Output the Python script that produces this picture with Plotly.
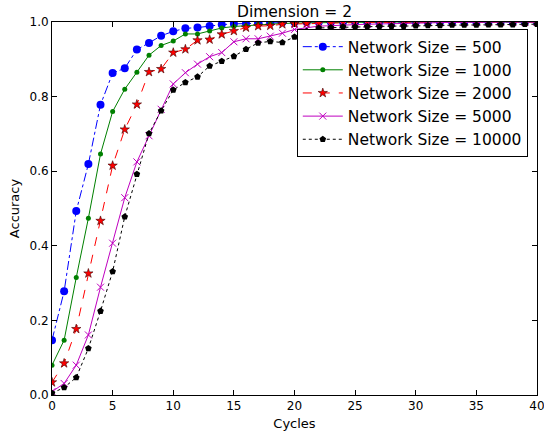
import plotly.graph_objects as go

cycles = list(range(41))

acc_500 = [0.147, 0.278, 0.493, 0.619, 0.778, 0.863, 0.876, 0.926, 0.944, 0.963,
           0.975, 0.983, 0.985, 0.989, 0.993, 0.995, 0.996, 0.997, 0.998, 0.999,
           0.999, 1.0, 1.0, 1.0, 1.0, 1.0, 1.0, 1.0, 1.0, 1.0,
           1.0, 1.0, 1.0, 1.0, 1.0, 1.0, 1.0, 1.0, 1.0, 1.0, 1.0]
acc_1000 = [0.080, 0.147, 0.315, 0.474, 0.646, 0.760, 0.820, 0.865, 0.911, 0.937,
            0.949, 0.968, 0.968, 0.976, 0.984, 0.988, 0.990, 0.993, 0.995, 0.996,
            0.997, 0.998, 0.998, 0.999, 0.999, 0.999, 1.0, 1.0, 1.0, 1.0,
            1.0, 1.0, 1.0, 1.0, 1.0, 1.0, 1.0, 1.0, 1.0, 1.0, 1.0]
acc_2000 = [0.034, 0.085, 0.177, 0.326, 0.467, 0.615, 0.712, 0.779, 0.866, 0.874,
            0.918, 0.927, 0.951, 0.953, 0.967, 0.976, 0.985, 0.989, 0.990, 0.994,
            0.995, 0.996, 0.997, 0.997, 0.998, 0.998, 0.999, 0.999, 0.999, 1.0,
            1.0, 1.0, 1.0, 1.0, 1.0, 1.0, 1.0, 1.0, 1.0, 1.0, 1.0]
acc_5000 = [0.009, 0.031, 0.080, 0.161, 0.289, 0.407, 0.529, 0.625, 0.695, 0.766,
            0.834, 0.864, 0.887, 0.907, 0.918, 0.947, 0.955, 0.955, 0.962, 0.970,
            0.980, 0.985, 0.989, 0.990, 0.992, 0.993, 0.994, 0.995, 0.996, 0.997,
            0.998, 0.998, 0.999, 0.999, 0.999, 1.0, 1.0, 1.0, 1.0, 1.0, 1.0]
acc_10000 = [0.005, 0.020, 0.047, 0.125, 0.225, 0.331, 0.478, 0.592, 0.701, 0.762,
             0.818, 0.838, 0.853, 0.882, 0.895, 0.908, 0.927, 0.944, 0.948, 0.945,
             0.960, 0.975, 0.984, 0.985, 0.987, 0.987, 0.988, 0.988, 0.989, 0.989,
             0.990, 0.991, 0.991, 0.992, 0.992, 0.992, 0.993, 0.993, 0.993, 0.994, 0.994]

series = [
    ("Network Size = 500", acc_500, "#0000ff", "dashdot", "circle", 8, dict(color="#0000ff", width=0)),
    ("Network Size = 1000", acc_1000, "#008000", "solid", "circle", 5, dict(color="#008000", width=0)),
    ("Network Size = 2000", acc_2000, "#ff0000", "dash", "star", 7, dict(color="#400000", width=0.6)),
    ("Network Size = 5000", acc_5000, "#bf00bf", "solid", "x-thin-open", 7, dict(color="#bf00bf", width=1)),
    ("Network Size = 10000", acc_10000, "#000000", "dot", "pentagon", 7, dict(color="#000000", width=0)),
]

fig = go.Figure()
for name, ys, color, dash, sym, size, mline in series:
    fig.add_trace(go.Scatter(
        x=cycles, y=ys, name=name, mode="lines+markers",
        line=dict(color=color, dash=dash, width=1),
        marker=dict(symbol=sym, size=size, color=color, line=mline),
    ))

axis_common = dict(
    showline=True, linecolor="black", linewidth=1, mirror="ticks",
    ticks="inside", ticklen=5, tickcolor="black", showgrid=False, zeroline=False,
    automargin=False, ticklabeloverflow="allow",
    tickfont=dict(family="DejaVu Sans", size=12, color="black"),
)

fig.update_layout(
    width=544, height=439,
    margin=dict(l=52, r=7, t=22, b=44),
    paper_bgcolor="white", plot_bgcolor="white",
    font=dict(family="DejaVu Sans", size=12, color="black"),
    title=dict(text="Dimension = 2", x=0.5, xref="paper", y=1 - 12 / 439, yanchor="middle",
               font=dict(size=15.5, family="DejaVu Sans", color="black")),
    xaxis=dict(range=[0, 40], tickvals=[0, 5, 10, 15, 20, 25, 30, 35, 40],
               title=dict(text="Cycles", standoff=6, font=dict(size=13)), **axis_common),
    yaxis=dict(range=[0, 1.0], tickvals=[0, 0.2, 0.4, 0.6, 0.8, 1.0],
               ticktext=["0.0", "0.2", "0.4", "0.6", "0.8", "1.0"],
               title=dict(text="Accuracy", standoff=6, font=dict(size=13)), **axis_common),
    legend=dict(x=0.981, y=0.981, xanchor="right", yanchor="top",
                bgcolor="white", bordercolor="black", borderwidth=1,
                font=dict(size=15.5, family="DejaVu Sans", color="black"),
                tracegroupgap=0, itemwidth=40),
    showlegend=True,
)

fig.write_html("out.html", config={"displayModeBar": False},
               post_script="document.body.style.margin='0';document.body.style.overflow='hidden';")
